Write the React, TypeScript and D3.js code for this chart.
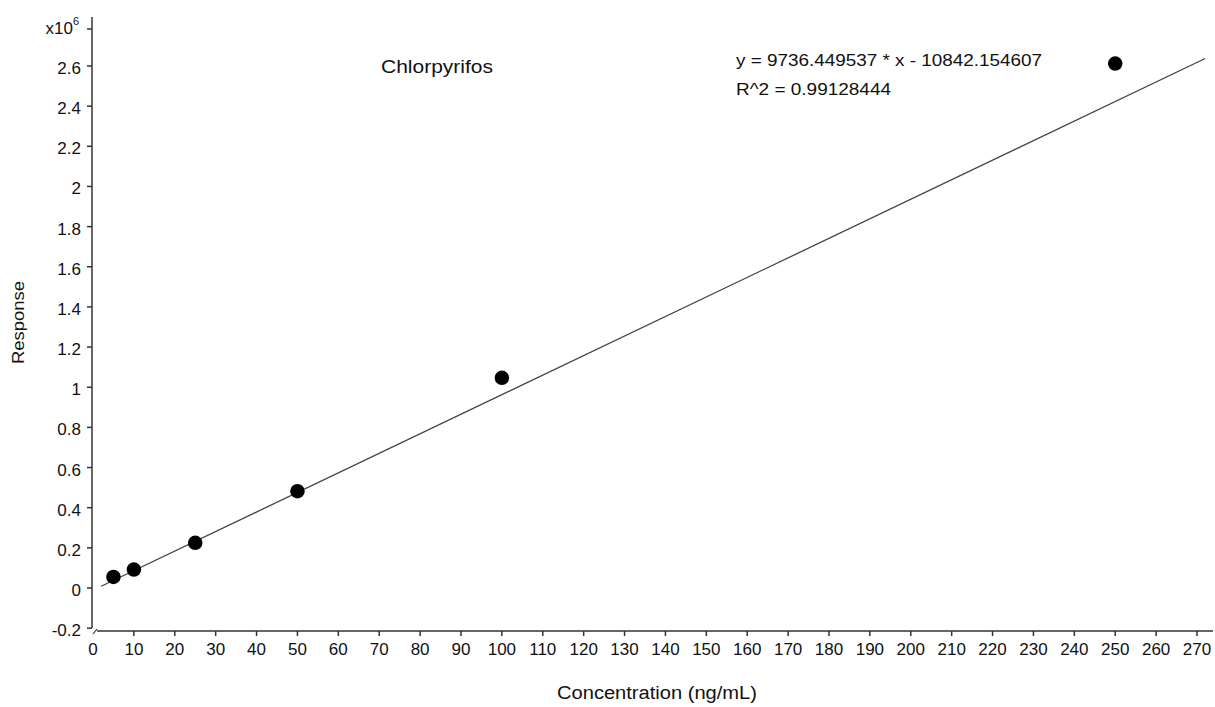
import React from "react";
import * as d3 from "d3";

const concentrations = [5, 10, 25, 50, 100, 250];
const responses = [0.055e6, 0.092e6, 0.225e6, 0.482e6, 1.047e6, 2.612e6];
const yTicks = [-0.2, 0, 0.2, 0.4, 0.6, 0.8, 1, 1.2, 1.4, 1.6, 1.8, 2, 2.2, 2.4, 2.6];
const xTicks = d3.range(0, 271, 10);
const slope = 9736.449537;
const intercept = -10842.154607;
const fitRange = [2, 272];

const W = 1215, H = 707;
const font = "Liberation Sans, Arial, sans-serif";

export default function App() {
  const x = d3.scaleLinear().domain([0, 270]).range([93, 1197]);
  const y = d3.scaleLinear().domain([0, 2.6e6]).range([588, 66]);
  const yAxisX = 92;
  const xAxisY = 631;
  const line = d3.line<number>().x(d => x(d)).y(d => y(slope * d + intercept));
  const dot = d3.symbol().type(d3.symbolCircle).size(165);
  return (
    <svg width={W} height={H} style={{ position: "absolute", left: 0, top: 0, background: "#fff" }} fontFamily={font}>
      {/* y axis */}
      <line x1={yAxisX} x2={yAxisX} y1={17} y2={628} stroke="#333" strokeWidth={1.5} />
      {yTicks.map(t => (
        <g key={t}>
          <line x1={yAxisX - 5} x2={yAxisX} y1={y(t * 1e6)} y2={y(t * 1e6)} stroke="#333" strokeWidth={1.5} />
          <text x={81} y={y(t * 1e6) + 8} textAnchor="end" fontSize={17} fill="#111">{String(t)}</text>
        </g>
      ))}
      <line x1={yAxisX - 5} x2={yAxisX} y1={29} y2={29} stroke="#333" strokeWidth={1.5} />
      <text x={73} y={34} textAnchor="end" fontSize={17} fill="#111">x10</text>
      <text x={73} y={25} fontSize={11} fill="#111">6</text>
      {/* break mark */}
      <line x1={93} x2={97} y1={634} y2={629} stroke="#333" strokeWidth={1.2} />
      {/* x axis */}
      <line x1={97} x2={1213} y1={xAxisY} y2={xAxisY} stroke="#333" strokeWidth={1.5} />
      {xTicks.map(t => (
        <g key={t}>
          {t > 0 && <line x1={x(t)} x2={x(t)} y1={xAxisY} y2={xAxisY + 5} stroke="#333" strokeWidth={1.5} />}
          <text x={x(t)} y={xAxisY + 24} textAnchor="middle" fontSize={17} fill="#111">{t}</text>
        </g>
      ))}
      {/* fit line */}
      <path d={line(fitRange) || ""} stroke="#444" strokeWidth={1.3} fill="none" />
      {/* points */}
      {concentrations.map((c, i) => (
        <path key={c} d={dot() || ""} transform={`translate(${x(c)},${y(responses[i])})`} fill="#000" />
      ))}
      {/* texts */}
      <text x={381} y={73} fontSize={18} fill="#111" textLength={112} lengthAdjust="spacingAndGlyphs">Chlorpyrifos</text>
      <text x={736} y={66} fontSize={17} fill="#111" textLength={306} lengthAdjust="spacingAndGlyphs">y = 9736.449537 * x - 10842.154607</text>
      <text x={736} y={95} fontSize={17} fill="#111" textLength={155} lengthAdjust="spacingAndGlyphs">R^2 = 0.99128444</text>
      <text x={557} y={699} fontSize={18} fill="#111" textLength={200} lengthAdjust="spacingAndGlyphs">Concentration (ng/mL)</text>
      <text transform="translate(24,364) rotate(-90)" fontSize={17} fill="#111" textLength={83} lengthAdjust="spacingAndGlyphs">Response</text>
    </svg>
  );
}
